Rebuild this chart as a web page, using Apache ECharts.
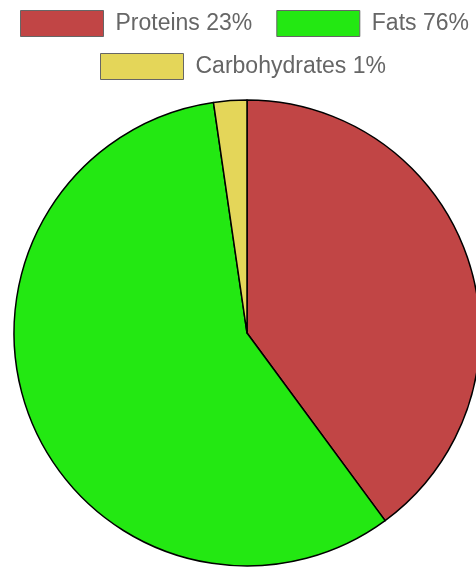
<!DOCTYPE html>
<html><head><meta charset="utf-8">
<script src="https://cdn.jsdelivr.net/npm/echarts@6/dist/echarts.min.js"></script>
<style>html,body{margin:0;padding:0;background:#fff}#c{width:476px;height:573px}</style>
</head><body><div id="c"></div>
<script>
const categories = ['Proteins 23%', 'Fats 76%', 'Carbohydrates 1%'];
const values = [39.9, 57.8, 2.3];
const colors = ['#c14545', '#23e812', '#e4d659'];

const chart = echarts.init(document.getElementById('c'), null, {renderer: 'canvas'});
const legendCommon = {
  itemWidth: 83, itemHeight: 26, itemGap: 24,
  padding: 0,
  icon: 'rect',
  itemStyle: {borderColor: '#666', borderWidth: 1},
  textStyle: {color: '#666', fontSize: 23, fontFamily: 'Liberation Sans, Arial, sans-serif', padding: [0, 0, 0, 7]},
  selectedMode: false
};
chart.setOption({
  animation: false,
  color: colors,
  legend: [
    Object.assign({}, legendCommon, {data: categories.slice(0, 2), top: 10, left: 20}),
    Object.assign({}, legendCommon, {data: categories.slice(2), top: 53, left: 100})
  ],
  series: [{
    type: 'pie',
    center: [247, 333],
    radius: 233,
    startAngle: 90,
    clockwise: true,
    label: {show: false},
    labelLine: {show: false},
    emphasis: {disabled: true},
    itemStyle: {borderColor: '#000', borderWidth: 1.5},
    data: categories.map((n, i) => ({name: n, value: values[i]}))
  }]
});
</script></body></html>
